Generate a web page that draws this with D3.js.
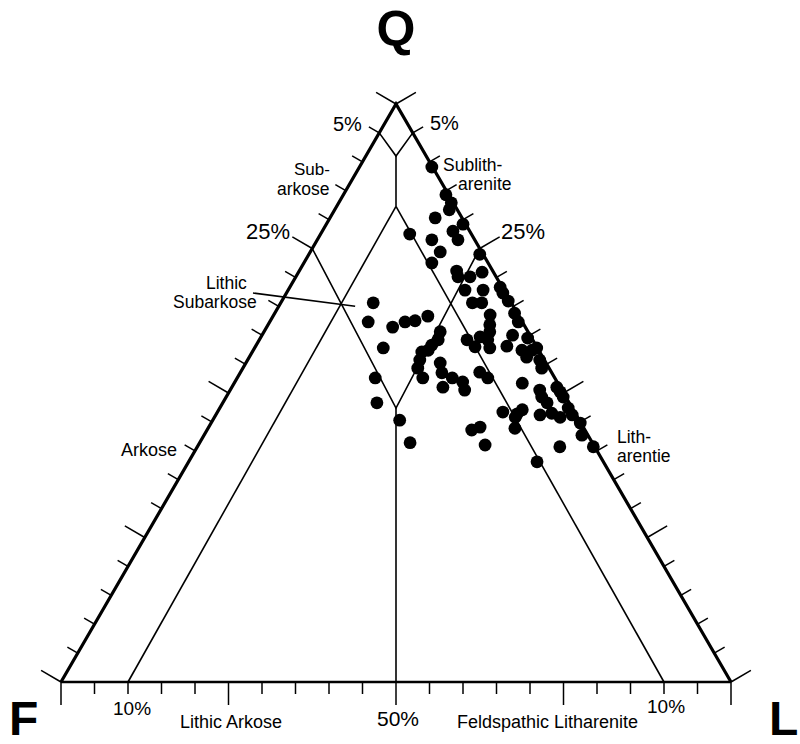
<!DOCTYPE html>
<html>
<head>
<meta charset="utf-8">
<script src="https://cdn.jsdelivr.net/npm/d3@7"></script>
<style>
  body { margin: 0; background: #fff; }
  text { font-family: "Liberation Sans", Arial, Helvetica, sans-serif; fill: #000; }
</style>
</head>
<body>
<div id="chart"></div>
<script>
// sample compositions, percent (Q = quartz, F = feldspar, L = lithics)
var sampleQ = [89.1,84.3,82.9,81.7,80.3,79.2,77.5,76.5,78.0,76.5,
  74.4,74.0,72.5,71.1,70.1,70.1,70.9,67.8,67.8,68.3,
  67.3,65.9,65.6,65.6,63.5,63.8,62.3,61.8,60.6,60.0,
  59.5,59.7,59.2,58.0,59.2,57.8,58.1,57.4,56.2,57.4,
  57.8,55.7,54.3,65.6,62.3,61.4,62.3,62.5,63.3,57.8,
  60.6,59.2,58.3,57.1,57.4,55.7,54.3,52.6,55.2,53.5,
  52.6,51.0,51.9,50.5,53.6,52.6,51.7,50.5,49.3,51.0,
  50.2,48.3,46.2,46.5,45.8,47.4,46.2,44.8,42.7,40.7,
  46.7,46.4,47.1,43.9,43.6,44.1,41.0,38.1,40.7,52.6,
  48.3,45.3,41.4,49.3,45.8];
var sampleF = [0.1,0.4,0.3,1.2,4.0,0.4,9.2,6.4,2.5,2.5,
  6.2,0.5,8.4,5.4,5.7,3.9,1.7,5.8,3.1,0.3,
  0.4,0.3,5.8,4.4,4.2,0.4,0.6,5.1,5.7,2.6,
  0.6,7.6,9.8,9.2,6.7,7.1,4.4,2.5,2.4,1.0,
  0.1,0.7,1.1,20.6,23.0,19.8,17.5,15.9,13.6,23.0,
  13.1,14.1,15.5,17.6,16.5,18.6,19.6,19.7,15.8,16.4,
  15.3,17.5,14.1,14.5,10.7,10.0,5.3,3.3,3.6,0.5,
  0.4,3.3,5.4,3.5,2.6,0.6,0.6,0.1,0.9,0.2,
  10.7,8.7,7.6,10.3,16.9,15.4,16.2,9.9,5.2,26.8,
  28.7,26.8,27.2,0.4,9.3];
var sampleL = [10.8,15.3,16.8,17.1,15.7,20.4,13.3,17.1,19.5,21.0,
  19.4,25.5,19.1,23.5,24.2,26.0,27.4,26.4,29.1,31.4,
  32.3,33.8,28.6,30.0,32.3,35.8,37.1,33.1,33.7,37.4,
  39.9,32.7,31.0,32.8,34.1,35.1,37.5,40.1,41.4,41.6,
  42.1,43.6,44.6,13.8,14.7,18.8,20.2,21.6,23.1,19.2,
  26.3,26.7,26.2,25.3,26.1,25.7,26.1,27.7,29.0,30.1,
  32.1,31.5,34.0,35.0,35.7,37.4,43.0,46.2,47.1,48.5,
  49.4,48.4,48.4,50.0,51.6,52.0,53.2,55.1,56.4,59.1,
  42.6,44.9,45.3,45.8,39.5,40.5,42.8,52.0,54.1,20.6,
  23.0,27.9,31.4,50.3,44.9];

// classification field boundaries, each a polyline of [Q, F, L]
var fieldLines = [
  [[95, 5, 0], [91, 4.5, 4.5], [95, 0, 5]],
  [[91, 4.5, 4.5], [82.3, 8.85, 8.85]],
  [[82.3, 8.85, 8.85], [0, 90, 10]],
  [[82.3, 8.85, 8.85], [0, 10, 90]],
  [[75, 25, 0], [47.4, 26.3, 26.3], [75, 0, 25]],
  [[47.4, 26.3, 26.3], [0, 50, 50]]
];

var tickSteps = d3.range(0, 101, 5);
var majorTicks = [0, 25, 50, 75, 100];

var svgWidth = 800;
var svgHeight = 744;

var svg = d3.select("#chart")
  .append("svg")
  .attr("width", svgWidth)
  .attr("height", svgHeight);

// cartesian position of a composition: x from L + Q/2, y from Q
var xScale = d3.scaleLinear().domain([0, 100]).range([61, 731]);
var yScale = d3.scaleLinear().domain([0, 100]).range([682, 104]);

function proj(c) {
  var s = c[0] + c[1] + c[2];
  var q = 100 * c[0] / s, l = 100 * c[2] / s;
  return [xScale(l + q / 2), yScale(q)];
}

var line = d3.line();

var vQ = proj([100, 0, 0]), vF = proj([0, 100, 0]), vL = proj([0, 0, 100]);

function unit(a, b) {
  var dx = b[0] - a[0], dy = b[1] - a[1], n = Math.hypot(dx, dy);
  return [dx / n, dy / n];
}
var dLeft = unit(vF, vQ), dRight = unit(vL, vQ);
var sides = [
  { pt: function(v) { return proj([v, 100 - v, 0]); }, n: [dLeft[1], -dLeft[0]] },
  { pt: function(v) { return proj([v, 0, 100 - v]); }, n: [-dRight[1], dRight[0]] },
  { pt: function(v) { return proj([0, 100 - v, v]); }, n: [0, 1] }
];

// ticks
var tickG = svg.append("g")
  .attr("stroke", "#000")
  .attr("stroke-width", 1.5);
sides.forEach(function(s) {
  tickG.selectAll(null)
    .data(tickSteps)
    .enter()
    .append("line")
    .attr("x1", d => s.pt(d)[0])
    .attr("y1", d => s.pt(d)[1])
    .attr("x2", d => s.pt(d)[0] + s.n[0] * (majorTicks.indexOf(d) >= 0 ? 23 : 12))
    .attr("y2", d => s.pt(d)[1] + s.n[1] * (majorTicks.indexOf(d) >= 0 ? 23 : 12));
});

// field lines
svg.append("g")
  .selectAll("path")
  .data(fieldLines)
  .enter()
  .append("path")
  .attr("d", d => line(d.map(proj)))
  .attr("fill", "none")
  .attr("stroke", "#000")
  .attr("stroke-width", 1.6);

// outer triangle
svg.append("path")
  .attr("d", line([vF, vQ, vL]))
  .attr("fill", "none")
  .attr("stroke", "#000")
  .attr("stroke-width", 3.2)
  .attr("stroke-linejoin", "miter");
svg.append("path")
  .attr("d", line([vF, vL]))
  .attr("stroke", "#000")
  .attr("stroke-width", 2.6);

// leader for Lithic Subarkose
var leaderEnd = proj([65, 23.6, 11.4]);
svg.append("line")
  .attr("x1", 253).attr("y1", 293)
  .attr("x2", leaderEnd[0]).attr("y2", leaderEnd[1])
  .attr("stroke", "#000")
  .attr("stroke-width", 1.5);

// samples
var samples = sampleQ.map(function(q, i) { return [q, sampleF[i], sampleL[i]]; });
svg.append("g")
  .selectAll("circle")
  .data(samples)
  .enter()
  .append("circle")
  .attr("cx", d => proj(d)[0])
  .attr("cy", d => proj(d)[1])
  .attr("r", 6.4)
  .attr("fill", "#000");

// labels
var labels = [
  { t: "Q", x: 396, y: 46, s: 50, a: "middle", w: "bold" },
  { t: "F", x: 9, y: 735, s: 48, a: "start", w: "bold" },
  { t: "L", x: 769, y: 735, s: 48, a: "start", w: "bold" },
  { t: "5%", x: 333, y: 131, s: 20, a: "start" },
  { t: "5%", x: 430, y: 130, s: 20, a: "start" },
  { t: "Sub-", x: 294, y: 175, s: 17, a: "start" },
  { t: "arkose", x: 277, y: 195, s: 17.5, a: "start" },
  { t: "Sublith-", x: 443, y: 171, s: 17.5, a: "start" },
  { t: "arenite", x: 458, y: 190, s: 17.5, a: "start" },
  { t: "25%", x: 246, y: 239, s: 22, a: "start" },
  { t: "25%", x: 501, y: 239, s: 22, a: "start" },
  { t: "Lithic", x: 206, y: 289, s: 17.5, a: "start" },
  { t: "Subarkose", x: 173, y: 308, s: 17.5, a: "start" },
  { t: "Arkose", x: 121, y: 456, s: 18, a: "start" },
  { t: "Lith-", x: 617, y: 443, s: 17.5, a: "start" },
  { t: "arentie", x: 617, y: 462, s: 17.5, a: "start" },
  { t: "10%", x: 113, y: 715, s: 19, a: "start" },
  { t: "Lithic Arkose", x: 180, y: 728, s: 18, a: "start" },
  { t: "50%", x: 377, y: 726, s: 21, a: "start" },
  { t: "Feldspathic Litharenite", x: 457, y: 728, s: 18, a: "start" },
  { t: "10%", x: 647, y: 713, s: 19, a: "start" }
];
svg.append("g")
  .selectAll("text")
  .data(labels)
  .enter()
  .append("text")
  .attr("x", d => d.x)
  .attr("y", d => d.y)
  .attr("font-size", d => d.s + "px")
  .attr("font-weight", d => d.w || "normal")
  .attr("text-anchor", d => d.a)
  .text(d => d.t);
</script>
</body>
</html>
